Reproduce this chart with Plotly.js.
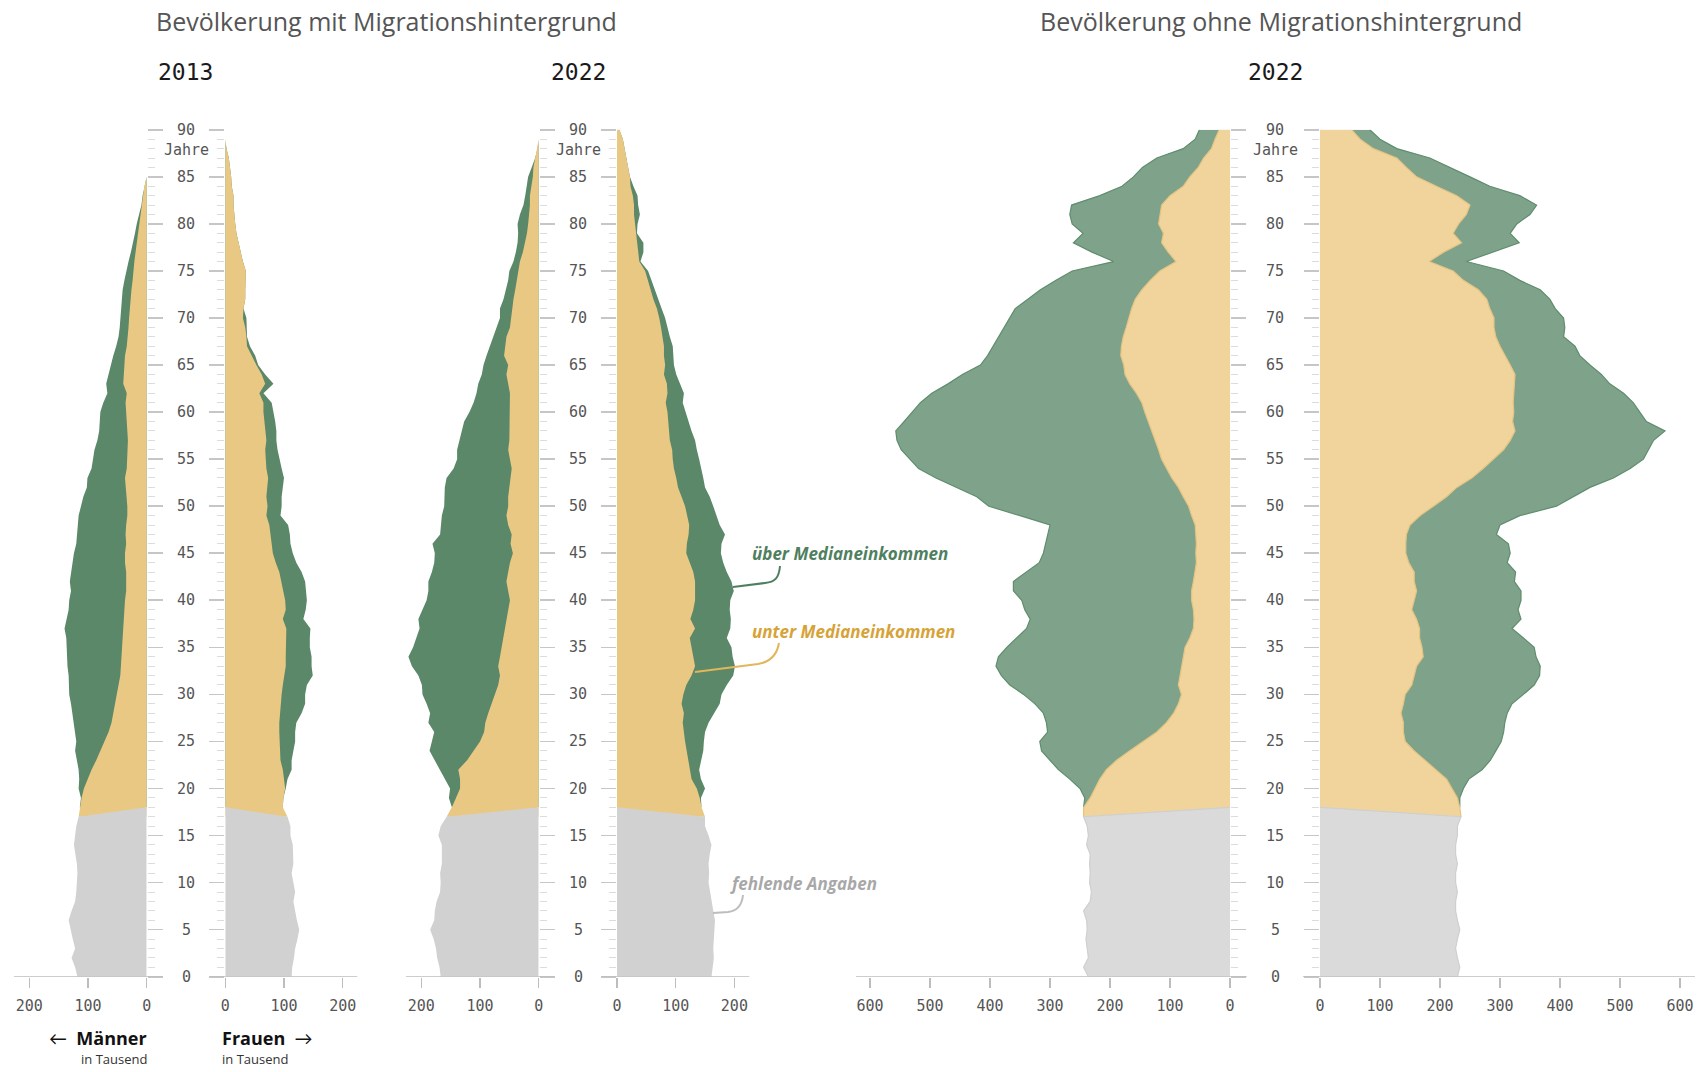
<!DOCTYPE html>
<html>
<head>
<meta charset="utf-8">
<script src="https://cdn.plot.ly/plotly-3.0.1.min.js"></script>
<style>
  body { margin: 0; background: #fff; }
  #chart { width: 1706px; height: 1072px; }
</style>
</head>
<body>
<div id="chart"></div>
<script>
// population in thousands, by single year of age
// missing: ages 0-17, below / above median income: ages 18-90
var mit2013MenMissing = [118,122,128,122,126,130,133,128,122,120,119,118,119,122,124,122,120,116];
var mit2013MenBelow = [114,111,107,101,94,86,79,73,65,60, 57,54,50,47,45,44,43,42,41,40,
  40,38,37,35,35,35,37,37,35,36, 35,33,33,34,35,37,34,33,32,32, 33,34,35,36,34,40,39,38,37,34,
  32,31,30,29,28,26,24,23,21,19, 17,15,13,11,9,7,4,0,0,0, 0,0,0];
var mit2013MenAbove = [0,1,9,14,22,33,43,47,57,64, 69,75,82,85,88,91,93,95,96,100,
  96,95,95,94,96,94,89,87,85,83, 83,83,79,74,67,64,60,59,57,52, 48,46,44,38,33,29,26,24,20,18,
  16,15,15,15,14,15,14,12,10,8, 6,5,4,2,0,0,0,0,0,0, 0,0,0];

var mit2013WomenMissing = [113,114,117,119,123,126,122,119,116,119,116,113,116,116,115,111,111,106];
var mit2013WomenBelow = [98,99,102,100,98,94,93,92,92,92, 93,94,96,98,100,103,103,103,103,104,
  98,103,102,99,96,92,86,81,79,77, 75,70,72,70,72,73,70,69,68,70, 68,66,65,65,58,68,62,53,45,37,
  36,34,30,31,34,34,35,35,30,26, 23,19,17,15,14,14,11,10,8,6, 2,0,0];
var mit2013WomenAbove = [0,0,1,6,15,19,23,27,27,29, 37,42,40,41,49,44,44,41,41,41,
  35,34,37,38,40,38,35,34,32,33, 32,24,24,26,26,27,26,23,21,17, 19,19,17,14,7,14,6,3,6,5,
  1,3,6,0,0,0,0,0,0,0, 0,0,0,0,0,0,0,0,0,0, 0,0,0];

var mit2022MenMissing = [167,169,173,175,179,185,178,177,174,168,167,168,165,165,165,171,167,157];
var mit2022MenBelow = [148,141,134,134,137,122,111,100,93,91, 86,80,74,69,66,69,66,63,60,57,
  55,52,49,52,55,52,49,44,48,46, 52,55,52,52,50,49,46,49,52,50, 50,49,50,50,49,52,55,52,59,57,
  55,49,47,46,43,40,37,35,32,27, 23,20,18,16,15,15,12,10,9,6, 2,0,0];
var mit2022MenAbove = [0,12,17,26,31,55,75,82,85,97, 99,111,124,130,139,147,156,151,148,146,
  150,146,142,136,133,130,129,133,133,122, 115,110,109,109,110,108,99,90,87,85, 81,78,68,61,57,51,42,42,30,26,
  22,23,19,20,17,16,15,15,11,12, 13,15,18,16,11,8,8,8,3,0, 0,0,0];

var mit2022WomenMissing = [161,163,165,164,165,167,167,164,161,158,156,157,156,158,161,156,150,150];
var mit2022WomenBelow = [144,141,136,127,124,122,118,116,114,112, 114,110,113,118,127,133,130,127,124,133,
  125,130,133,133,133,130,124,118,119,122, 123,120,116,110,104,101,97,95,94,90, 89,88,86,83,86,85,80,82,80,80,
  78,75,72,68,62,57,53,48,38,36, 34,32,31,29,29,27,23,22,19,16, 14,10,4];
var mit2022WomenAbove = [0,2,14,16,16,22,29,32,36,44, 51,65,65,69,71,68,67,68,63,60,
  69,62,60,66,62,57,57,59,59,62, 52,50,48,48,46,46,47,45,42,43, 38,34,32,29,28,22,21,15,16,15,
  12,11,10,8,8,8,6,5,2,9, 11,2,4,10,7,8,5,0,0,0, 0,0,0];

var ohne2022MenMissing = [236,244,236,238,240,238,239,244,233,231,234,233,234,233,239,236,238,244];
var ohne2022MenBelow = [244,233,225,217,206,189,167,144,122,106, 94,86,81,86,83,81,78,75,67,61,
  60,61,64,64,61,58,56,57,56,57, 58,64,69,78,86,97,106,114,119,125, 131,136,142,147,156,167,175,177,182,181,
  178,173,169,164,158,147,133,117,90,103, 114,111,119,117,114,100,78,67,53,44, 31,25,18];
var ohne2022MenAbove = [0,9,25,50,80,111,147,173,182,200, 217,239,263,281,298,309,308,297,289,278,
  273,281,283,297,300,281,262,254,251,246, 242,286,333,344,370,393,413,419,429,430, 426,407,387,369,341,303,271,239,222,214,
  208,204,199,194,179,169,157,146,104,127, 147,134,144,150,150,117,102,94,93,78, 47,33,33];

var ohne2022WomenMissing = [229,233,229,226,229,233,229,226,226,229,226,226,229,226,226,229,229,235];
var ohne2022WomenBelow = [233,229,220,211,193,175,157,142,139,139, 135,139,142,153,157,161,172,170,166,166,
  161,153,157,161,157,157,148,143,143,144, 150,167,189,211,228,253,272,289,306,317, 325,321,323,322,323,325,325,317,308,300,
  293,290,290,283,278,264,239,222,182,206, 236,222,231,244,250,228,194,161,144,128, 89,67,53];
var ohne2022WomenAbove = [0,4,19,37,77,109,136,160,167,169, 177,181,197,204,209,206,188,187,173,154,
  174,177,178,174,167,169,164,174,171,150, 150,166,205,211,222,236,245,250,241,239, 250,223,210,200,183,158,144,133,125,125,
  113,118,116,109,105,103,94,84,62,83, 96,95,97,106,111,105,89,89,73,55, 39,33,30];

var ageTicks = [0,5,10,15,20,25,30,35,40,45,50,55,60,65,70,75,80,85,90];
var menTicks = [200,100,0];
var womenTicks = [0,100,200];
var menTicksWide = [600,500,400,300,200,100,0];
var womenTicksWide = [0,100,200,300,400,500,600];

var youthAges = [], adultAges = [];
for (var a = 0; a <= 17; a++) youthAges.push(a);
for (var a = 18; a <= 90; a++) adultAges.push(a);

var W = 1706, H = 1072;
function fx(p) { return p / W; }
function fy(p) { return 1 - p / H; }
function pt(x, y) { return fx(x) + ',' + fy(y); }

var strong = {green: '#5a8869', yellow: '#e9c883', gray: '#d1d1d1',
  greenLine: '#5a8869', yellowLine: '#e9c883', grayLine: '#d1d1d1', lineW: 0};
var soft = {green: '#7ea38a', yellow: '#f0d49c', gray: '#dadada',
  greenLine: '#5f8d6d', yellowLine: '#e4c483', grayLine: '#cfcfcf', lineW: 1.2};

var halves = [
  {missing: mit2013MenMissing, below: mit2013MenBelow, above: mit2013MenAbove,
   dom: [14, 146.7], range: [226.1, 0], tickvals: menTicks, side: 'right', look: strong},
  {missing: mit2013WomenMissing, below: mit2013WomenBelow, above: mit2013WomenAbove,
   dom: [225.3, 357.3], range: [0, 224.9], tickvals: womenTicks, side: 'left', look: strong},
  {missing: mit2022MenMissing, below: mit2022MenBelow, above: mit2022MenAbove,
   dom: [406, 538.7], range: [226.1, 0], tickvals: menTicks, side: 'right', look: strong},
  {missing: mit2022WomenMissing, below: mit2022WomenBelow, above: mit2022WomenAbove,
   dom: [617, 749.3], range: [0, 225.4], tickvals: womenTicks, side: 'left', look: strong},
  {missing: ohne2022MenMissing, below: ohne2022MenBelow, above: ohne2022MenAbove,
   dom: [856, 1230], range: [623.3, 0], tickvals: menTicksWide, side: 'right', look: soft},
  {missing: ohne2022WomenMissing, below: ohne2022WomenBelow, above: ohne2022WomenAbove,
   dom: [1320, 1695], range: [0, 625], tickvals: womenTicksWide, side: 'left', look: soft}
];

var monoFont = 'DejaVu Sans Mono, monospace';
var sansFont = 'Open Sans, Lato, sans-serif';

var data = [];
var layout = {
  width: W, height: H,
  margin: {l: 0, r: 0, t: 0, b: 0},
  paper_bgcolor: '#fff',
  plot_bgcolor: 'rgba(0,0,0,0)',
  showlegend: false,
  hovermode: false,
  font: {family: monoFont, color: '#555', size: 14},
  shapes: [],
  annotations: []
};

halves.forEach(function(h, i) {
  var n = i + 1;
  var xa = n === 1 ? 'x' : 'x' + n;
  var ya = n === 1 ? 'y' : 'y' + n;
  var look = h.look;
  var total = h.below.map(function(v, k) { return v + h.above[k]; });

  data.push({
    type: 'scatter', mode: 'lines', xaxis: xa, yaxis: ya,
    x: total, y: adultAges, fill: 'tozerox', fillcolor: look.green,
    line: {color: look.greenLine, width: look.lineW}
  });
  data.push({
    type: 'scatter', mode: 'lines', xaxis: xa, yaxis: ya,
    x: [h.missing[17]].concat(h.below), y: [17].concat(adultAges),
    fill: 'tozerox', fillcolor: look.yellow,
    line: {color: look.yellowLine, width: look.lineW}
  });
  data.push({
    type: 'scatter', mode: 'lines', xaxis: xa, yaxis: ya,
    x: h.missing.concat([0]), y: youthAges.concat([18]),
    fill: 'tozerox', fillcolor: look.gray,
    line: {color: look.grayLine, width: look.lineW}
  });

  layout[n === 1 ? 'xaxis' : 'xaxis' + n] = {
    domain: [fx(h.dom[0]), fx(h.dom[1])],
    range: h.range,
    anchor: ya,
    showgrid: false, zeroline: false, showline: false,
    ticks: 'outside', ticklen: 10, tickwidth: 1.5, tickcolor: '#bdbdbd',
    tickmode: 'array', tickvals: h.tickvals,
    ticklabelstandoff: 5,
    tickfont: {family: monoFont, size: 15, color: '#555'},
    fixedrange: true
  };
  layout[n === 1 ? 'yaxis' : 'yaxis' + n] = {
    domain: [fy(976.7), fy(129.8)],
    range: [0, 90],
    anchor: xa,
    side: h.side,
    showgrid: false, zeroline: false, showline: false, showticklabels: false,
    ticks: 'outside', tickmode: 'linear', tick0: 0, dtick: 5,
    ticklen: 15, tickwidth: 1.6, tickcolor: '#c6c6c6',
    minor: {ticks: 'outside', tick0: 0, dtick: 1, ticklen: 7, tickwidth: 1, tickcolor: '#dcdcdc'},
    fixedrange: true
  };
});

// baselines, running through the gap of the age column
var baselines = [[14, 162.3], [210, 357.3], [406, 554], [601.7, 749.3], [856, 1246.7], [1303, 1695]];
baselines.forEach(function(b) {
  layout.shapes.push({type: 'line', xref: 'paper', yref: 'y', x0: fx(b[0]), x1: fx(b[1]), y0: 0, y1: 0,
    line: {color: '#bdbdbd', width: 1.5}});
});

// age labels in the middle columns
var ageColumns = [186, 578, 1275];
ageColumns.forEach(function(cx) {
  ageTicks.forEach(function(age) {
    layout.annotations.push({xref: 'paper', yref: 'y', x: fx(cx), y: age, text: String(age),
      showarrow: false, xanchor: 'center', yanchor: 'middle',
      font: {family: monoFont, size: 15, color: '#555'}});
  });
  layout.annotations.push({xref: 'paper', yref: 'y', x: fx(cx), y: 87.9, text: 'Jahre',
    showarrow: false, xanchor: 'center', yanchor: 'middle',
    font: {family: monoFont, size: 15, color: '#555'}});
});

function label(x, y, text, font, xanchor) {
  layout.annotations.push({xref: 'paper', yref: 'paper', x: fx(x), y: fy(y), text: text,
    showarrow: false, xanchor: xanchor || 'center', yanchor: 'middle', font: font});
}

var titleFont = {family: sansFont, size: 25, color: '#555'};
var yearFont = {family: monoFont, size: 23, color: '#1a1a1a'};
label(386, 21, 'Bevölkerung mit Migrationshintergrund', titleFont);
label(1281, 21, 'Bevölkerung ohne Migrationshintergrund', titleFont);
label(185, 72, '2013', yearFont);
label(578, 72, '2022', yearFont);
label(1275, 72, '2022', yearFont);

label(149, 1038, '←  <b>Männer</b>', {family: sansFont, size: 18, color: '#111'}, 'right');
label(149, 1059, 'in Tausend', {family: sansFont, size: 13, color: '#333'}, 'right');
label(220, 1038, '<b>Frauen</b>  →', {family: sansFont, size: 18, color: '#111'}, 'left');
label(220, 1059, 'in Tausend', {family: sansFont, size: 13, color: '#333'}, 'left');

label(750, 553, '<b><i>über Medianeinkommen</i></b>', {family: sansFont, size: 17, color: '#4f7f5f'}, 'left');
label(750, 631, '<b><i>unter Medianeinkommen</i></b>', {family: sansFont, size: 17, color: '#d6a338'}, 'left');
label(728, 883, '<b><i>fehlende Angaben</i></b>', {family: sansFont, size: 17, color: '#a8a8a8'}, 'left');

// connector lines for the labels
function connector(path, color) {
  layout.shapes.push({type: 'path', xref: 'paper', yref: 'paper', path: path,
    line: {color: color, width: 2}});
}
connector('M' + pt(780, 566) + ' C' + pt(779, 578) + ' ' + pt(775, 582) + ' ' + pt(765, 583) + ' L' + pt(733, 587), '#4f7f5f');
connector('M' + pt(779, 643) + ' C' + pt(777, 655) + ' ' + pt(770, 662) + ' ' + pt(758, 664) + ' L' + pt(695, 672), '#e2b65a');
connector('M' + pt(743, 895) + ' C' + pt(742, 905) + ' ' + pt(737, 911) + ' ' + pt(728, 912) + ' L' + pt(713, 913), '#bdbdbd');

Plotly.newPlot('chart', data, layout, {displayModeBar: false, staticPlot: true});
</script>
</body>
</html>
